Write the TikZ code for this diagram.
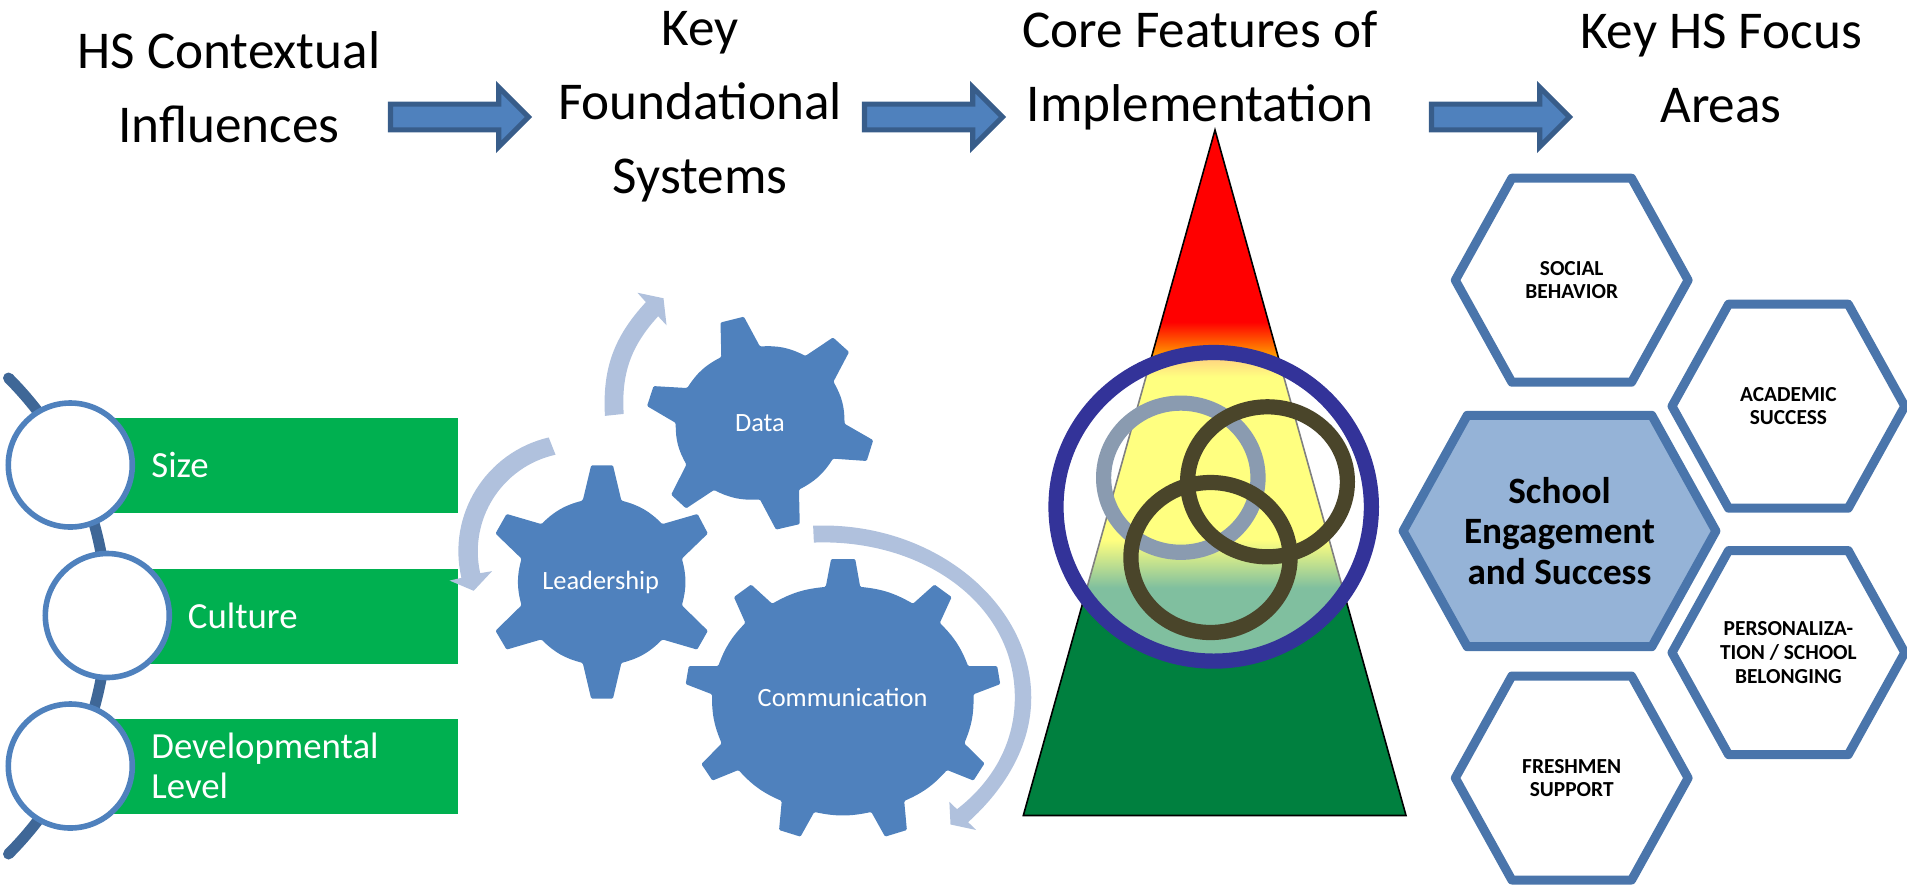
\documentclass[tikz,border=0pt]{standalone}
\usepackage{fontspec}
\setmainfont{Carlito}
\usetikzlibrary{shapes.geometric,shapes.arrows,shapes.symbols,shadows}

\definecolor{gearblue}{HTML}{4F81BD}
\definecolor{arrowline}{HTML}{385D8A}
\definecolor{spineblue}{HTML}{3F6797}
\definecolor{palearrow}{HTML}{B0C1DD}
\definecolor{bargreen}{HTML}{00B050}
\definecolor{hexline}{HTML}{4A75AB}
\definecolor{hexfill}{HTML}{95B3D7}
\definecolor{ringblue}{HTML}{333399}
\definecolor{ringgray}{HTML}{8A9BB0}
\definecolor{ringdark}{HTML}{4A452A}
\definecolor{pyrgreen}{HTML}{00803F}

\pgfdeclareverticalshading{pyramidshade}{100bp}{color(0bp)=(pyrgreen); color(41.6bp)=(pyrgreen); color(45.1bp)=(yellow); color(57bp)=(yellow); color(61bp)=(red); color(100bp)=(red)}

\tikzset{
  headline/.style={align=center,font=\fontsize{26.6}{37}\selectfont},
  blockarrow/.style={single arrow,draw=arrowline,fill=gearblue,line width=2.6pt,inner xsep=0pt,inner ysep=4.8pt,outer sep=0pt,
    minimum height=69pt,minimum width=29.8pt,single arrow head extend=8pt},
  barbox/.style={fill=bargreen,minimum height=47.5pt,inner sep=0pt},
  bartext/.style={anchor=west,inner sep=0pt,text=white,align=left,font=\fontsize{18.4}{20}\selectfont},
  bulb/.style={circle,draw=gearblue,fill=white,line width=2.8pt,minimum size=62pt,inner sep=0pt},
  gear/.style={fill=gearblue,rounded corners=0.6pt},
  gearlabel/.style={text=white,inner sep=0pt,font=\fontsize{13.2}{15}\selectfont},
  turnarrow/.style={fill=palearrow},
  loopring/.style={ellipse,draw,line width=7.6pt,inner sep=0pt,outer sep=0pt},
  hexcell/.style={signal,signal to=west and east,signal pointer angle=122,draw=hexline,fill=white,
    line width=4.5pt,line join=round,inner sep=0pt,inner xsep=-5pt,outer sep=0pt,minimum width=116.4pt,minimum height=102pt,
    align=center,font=\fontsize{10.7}{11.8}\selectfont\bfseries,
    drop shadow={opacity=0.25,shadow xshift=0pt,shadow yshift=-1.2pt}}
}

\begin{document}
\begin{tikzpicture}[x=0.5pt,y=-0.5pt]
\useasboundingbox (0,0) rectangle (1907,885);

\node[headline] (headContext) at (229,87.5) {HS Contextual\\Influences};
\node[headline] (headSystems) at (700,107) {Key\\Foundational\\Systems};
\node[headline] (headCore) at (1200,70.5) {Core Features of\\Implementation};
\node[headline] (headFocus) at (1721,68) {Key HS Focus\\Areas};

\node[blockarrow] (arrowContext) at (453,117) {};
\node[blockarrow] (arrowSystems) at (927,117) {};
\node[blockarrow] (arrowCore) at (1494,117) {};

\coordinate (spineTop) at (8.5,378);
\coordinate (spineBot) at (8.5,854);
\draw[spineblue,line width=5.5pt,line cap=round] (spineTop) to[bend left=45] (spineBot);

\node[barbox,minimum width=179pt] (barSize) at (279,465) {};
\node[barbox,minimum width=164pt] (barCulture) at (294,616) {};
\node[barbox,minimum width=179pt] (barLevel) at (279,766.5) {};
\node[bulb] (bulbSize) at (70.3,465) {};
\node[bulb] (bulbCulture) at (107.3,615.5) {};
\node[bulb] (bulbLevel) at (70.3,766) {};
\node[bartext] (textSize) at (151,465) {Size};
\node[bartext] (textCulture) at (187.5,615.5) {Culture};
\node[bartext] (textLevel) at (151,766) {Developmental\\Level};

\begin{scope}[shift={(440,270)},x=0.19135pt,y=-0.19608pt]
    \fill[gear] (373,588) -- (395,498) -- (452,498) -- (474,588) to[bend left=15] (581,648)
      -- (673,622) -- (700,672) -- (632,736) to[bend left=15] (632,855)
      -- (700,920) -- (672,968) -- (581,942) to[bend left=15] (474,1002)
      -- (452,1093) -- (395,1093) -- (373,1002) to[bend left=15] (265,942)
      -- (174,968) -- (145,920) -- (213,855) to[bend left=15] (213,736)
      -- (145,672) -- (174,622) -- (265,648) to[bend left=15] cycle;
    \fill[gear] (735,222) -- (733,134) -- (794,119) -- (836,195) to[bend left=15] (955,219)
      -- (1027,172) -- (1069,209) -- (1028,285) to[bend left=15] (1057,392)
      -- (1132,434) -- (1115,487) -- (1027,481) to[bend left=15] (938,560)
      -- (940,648) -- (878,662) -- (836,585) to[bend left=15] (716,561)
      -- (643,608) -- (604,573) -- (644,496) to[bend left=15] (616,390)
      -- (541,347) -- (558,296) -- (646,301) to[bend left=15] cycle;
    \fill[gear] (1008,808) -- (1022,737) -- (1085,737) -- (1098,808) to[bend left=12] (1236,851)
      -- (1292,802) -- (1337,834) -- (1306,900) to[bend left=12] (1380,1010)
      -- (1456,1010) -- (1464,1056) -- (1394,1082) to[bend left=12] (1370,1207)
      -- (1423,1258) -- (1394,1302) -- (1325,1275) to[bend left=12] (1213,1354)
      -- (1220,1428) -- (1163,1445) -- (1127,1382) to[bend left=12] (978,1382)
      -- (942,1445) -- (886,1428) -- (893,1354) to[bend left=12] (780,1275)
      -- (712,1302) -- (683,1260) -- (736,1207) to[bend left=12] (711,1082)
      -- (642,1056) -- (650,1010) -- (727,1010) to[bend left=12] (798,900)
      -- (768,834) -- (813,802) -- (868,851) to[bend left=12] cycle;
    \node[gearlabel] (labelLeadership) at (420,796) {Leadership};
    \node[gearlabel] (labelData) at (836,390) {Data};
    \node[gearlabel] (labelCommunication) at (1052,1090) {Communication};

    \fill[turnarrow] (431,372) to[bend left=23] (538,82) -- (516,58) -- (584,72) -- (592,141) -- (570,118)
      to[bend right=23] (480,367) -- cycle;
    \fill[turnarrow] (284,427) to[bend right=45] (56,785) -- (25,792) -- (88,818) -- (136,768) -- (105,773)
      to[bend left=45] (302,471) -- cycle;
    \fill[turnarrow] (975,652) .. controls (1290,640) and (1545,850) .. (1545,1090)
      .. controls (1545,1210) and (1480,1320) .. (1380,1408) -- (1401,1428) -- (1334,1414) -- (1331,1356) -- (1351,1375)
      .. controls (1450,1300) and (1502,1200) .. (1502,1090)
      .. controls (1502,850) and (1260,685) .. (977,695) -- cycle;
\end{scope}

\path[shading=pyramidshade,draw=black,line width=0.8pt] (1215,130) -- (1406,815.5) -- (1023.3,815.5) -- cycle;
\node[loopring,draw=ringblue,fill=white,fill opacity=0.5,draw opacity=1,minimum width=157.7pt,minimum height=154.3pt] (ringOuter) at (1213.7,506.8) {};
\node[loopring,draw=ringgray,minimum width=77.2pt,minimum height=74.6pt] (ringGray) at (1180.8,477.7) {};
\node[loopring,draw=ringdark,minimum width=79.9pt,minimum height=75pt] (ringUpper) at (1267.5,481.8) {};
\node[loopring,draw=ringdark,minimum width=79.6pt,minimum height=75pt] (ringLower) at (1210.5,557.5) {};

\node[hexcell] (hexSocial) at (1571.7,280.2) {SOCIAL\\BEHAVIOR};
\node[hexcell] (hexAcademic) at (1788.4,406.2) {ACADEMIC\\SUCCESS};
\node[hexcell] (hexBelonging) at (1788.4,652.6) {PERSONALIZA-\\TION / SCHOOL\\BELONGING};
\node[hexcell] (hexFreshmen) at (1571.7,778) {FRESHMEN\\SUPPORT};
\node[hexcell,fill=hexfill,minimum width=156.4pt,minimum height=115.7pt,font=\fontsize{18.6}{20.3}\selectfont\bfseries] (hexCentre) at (1559.5,531) {School\\Engagement\\and Success};
\end{tikzpicture}
\end{document}
